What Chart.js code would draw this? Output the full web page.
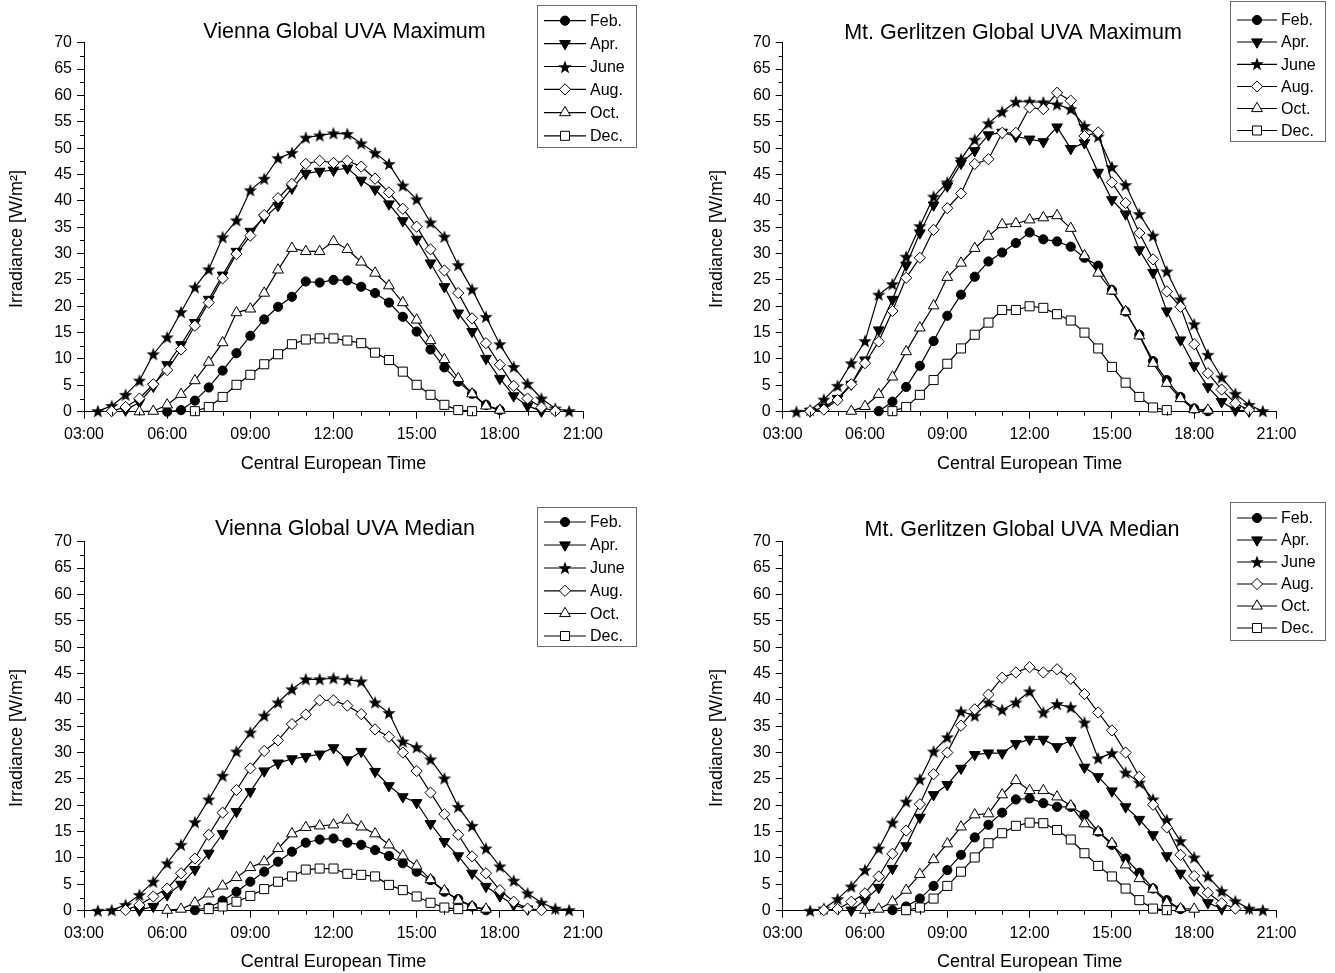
<!DOCTYPE html>
<html><head><meta charset="utf-8">
<script src="https://cdn.jsdelivr.net/npm/chart.js@4.4.1/dist/chart.umd.min.js"></script>
<style>
html,body{margin:0;padding:0;background:#fff;}
body{width:1335px;height:973px;position:relative;overflow:hidden;}
canvas{position:absolute;}
</style></head><body>
<canvas id="c0"></canvas><canvas id="c1"></canvas><canvas id="c2"></canvas><canvas id="c3"></canvas>
<script>
// ---------- data ----------
const times = ['03:30','04:00','04:30','05:00','05:30','06:00','06:30','07:00','07:30','08:00',
  '08:30','09:00','09:30','10:00','10:30','11:00','11:30','12:00','12:30','13:00',
  '13:30','14:00','14:30','15:00','15:30','16:00','16:30','17:00','17:30','18:00',
  '18:30','19:00','19:30','20:00','20:30'];
const xTickLabels = ['03:00','06:00','09:00','12:00','15:00','18:00','21:00'];
const yTickValues = [0,5,10,15,20,25,30,35,40,45,50,55,60,65,70];
const months = ['Feb.','Apr.','June','Aug.','Oct.','Dec.'];
const titles = ['Vienna Global UVA Maximum','Mt. Gerlitzen Global UVA Maximum','Vienna Global UVA Median','Mt. Gerlitzen Global UVA Median'];
const yAxisTitle = 'Irradiance [W/m²]';
const xAxisTitle = 'Central European Time';

// Vienna maximum
const viennaMaxFeb = [null,null,null,null,null,0.0,0.3,2.1,4.6,7.8,11.1,14.4,17.5,19.9,21.8,24.7,24.5,25.0,24.9,23.7,22.5,20.7,18.0,15.2,11.8,8.4,5.7,3.4,1.3,0.3,null,null,null,null,null];
const viennaMaxApr = [null,null,0.3,1.8,4.8,8.9,12.7,16.9,21.3,25.9,30.4,34.2,36.8,39.1,42.4,45.2,45.6,45.8,46.2,43.9,42.2,39.4,36.2,32.7,28.2,23.7,18.7,15.2,10.1,6.3,3.0,1.1,0.1,null,null];
const viennaMaxJun = [0.1,1.1,3.2,5.9,10.9,14.1,18.9,23.6,27.0,33.1,36.3,42.0,44.2,48.1,49.1,52.0,52.4,52.8,52.7,50.9,49.1,47.0,42.9,40.3,35.9,33.2,27.8,23.2,18.0,12.8,8.5,5.3,2.5,0.6,0.1];
const viennaMaxAug = [null,0.1,0.9,2.5,5.2,7.9,11.8,16.3,20.7,25.3,29.9,33.4,37.3,40.5,43.2,47.0,47.6,47.2,47.6,46.5,44.2,41.6,38.5,35.1,30.8,26.8,22.5,17.7,13.0,8.9,4.9,2.5,0.8,0.1,null];
const viennaMaxOct = [null,null,null,0.0,0.1,1.3,3.3,5.9,9.4,13.1,18.8,19.5,22.5,26.9,31.0,30.4,30.4,32.3,30.8,28.4,26.3,23.9,20.7,17.4,13.5,9.9,6.3,3.4,1.1,0.3,null,null,null,null,null];
const viennaMaxDec = [null,null,null,null,null,null,null,0.1,0.9,2.8,5.1,7.0,9.0,10.9,12.8,13.7,13.9,13.9,13.5,13.0,11.2,9.8,7.6,5.1,3.2,1.3,0.3,0.1,null,null,null,null,null,null,null];

// Mt. Gerlitzen maximum
const gerlMaxFeb = [null,null,null,null,null,null,0.1,1.9,4.7,8.7,13.4,18.2,22.2,25.6,28.5,30.2,32.0,34.0,32.7,32.3,31.3,29.2,27.7,23.1,19.0,14.6,9.6,6.0,2.8,0.6,0.1,null,null,null,null];
const gerlMaxApr = [null,0.1,0.8,2.5,5.2,9.8,15.5,21.3,27.8,33.9,39.2,42.8,47.1,49.5,52.5,53.0,52.2,51.7,51.2,54.0,49.9,51.0,45.4,40.2,37.5,30.7,26.4,19.1,13.6,8.7,4.7,1.9,0.3,0.1,null];
const gerlMaxJun = [0.0,0.3,2.3,4.9,9.2,13.4,22.2,24.2,29.4,35.2,40.8,43.5,47.9,51.6,54.7,56.9,58.8,58.8,58.7,58.3,57.4,54.2,52.2,46.4,43.0,37.5,33.4,26.6,21.3,16.6,10.8,6.5,3.4,1.3,0.1];
const gerlMaxAug = [null,0.1,0.4,2.2,5.2,9.2,13.3,19.1,25.4,29.2,34.5,38.6,41.4,47.0,47.9,52.9,52.9,57.7,57.4,60.5,59.0,52.3,53.0,43.5,39.6,33.9,28.9,22.8,19.9,12.8,7.3,4.2,1.6,0.3,null];
const gerlMaxOct = [null,null,null,null,0.1,1.0,3.3,6.6,11.4,15.9,20.1,25.5,28.2,31.0,33.3,35.5,35.7,36.4,36.8,37.2,34.8,29.6,26.3,22.9,19.0,14.4,9.2,5.4,2.5,0.4,0.3,null,null,null,null];
const gerlMaxDec = [null,null,null,null,null,null,null,0.1,0.9,3.2,6.0,9.1,12.0,14.6,16.9,19.3,19.3,20.0,19.7,18.5,17.3,15.0,12.0,8.5,5.5,2.8,0.8,0.3,null,null,null,null,null,null,null];

// Vienna median
const viennaMedFeb = [null,null,null,null,null,null,null,0.1,0.6,1.9,3.6,5.5,7.4,9.3,11.2,12.9,13.5,13.7,12.9,12.5,11.5,10.4,9.0,7.4,5.8,3.6,2.2,0.8,0.1,null,null,null,null,null,null];
const viennaMedApr = [null,null,null,0.1,0.8,3.0,5.0,7.8,10.9,14.6,18.8,22.6,26.5,28.0,28.8,29.2,29.7,30.9,28.6,30.2,26.4,23.7,21.6,20.5,16.5,13.1,10.4,7.1,4.6,2.8,1.1,0.3,null,null,null];
const viennaMedJun = [0.0,0.1,1.1,3.0,5.5,9.0,12.5,16.8,21.1,25.6,30.2,33.8,37.0,39.5,42.0,43.9,43.9,44.1,43.8,43.5,39.5,37.5,32.1,31.0,28.7,25.1,19.7,16.1,11.8,8.4,5.7,3.3,1.5,0.4,0.1];
const viennaMedAug = [null,null,0.1,1.1,2.7,4.2,7.1,9.9,14.4,18.6,22.9,27.0,30.3,32.3,35.4,37.2,39.9,39.9,38.9,37.3,34.4,33.0,30.0,26.5,22.4,18.3,14.4,10.3,7.1,3.9,1.7,0.4,0.1,null,null];
const viennaMedOct = [null,null,null,null,null,0.1,0.3,1.5,3.2,4.7,6.3,8.2,9.3,11.8,14.6,15.8,16.1,16.3,17.2,15.9,14.6,12.5,10.4,8.5,5.9,3.8,2.0,0.8,0.3,null,null,null,null,null,null];
const viennaMedDec = [null,null,null,null,null,null,null,null,0.3,0.8,1.7,2.8,4.1,5.5,6.5,7.8,8.0,8.0,7.0,6.8,6.5,4.9,3.9,2.7,1.5,0.6,0.3,null,null,null,null,null,null,null,null];

// Mt. Gerlitzen median
const gerlMedFeb = [null,null,null,null,null,null,null,0.1,0.8,2.3,4.7,7.7,10.6,13.9,16.3,18.6,21.1,21.3,20.4,19.7,19.7,18.2,15.0,12.5,9.9,7.2,4.2,2.0,0.3,null,null,null,null,null,null];
const gerlMedApr = [null,null,null,null,0.1,2.0,4.4,8.0,12.3,17.7,22.0,23.9,27.0,29.6,29.9,29.9,31.7,32.5,32.5,31.1,32.3,27.2,25.4,22.7,19.7,17.3,14.4,10.4,7.1,3.9,1.5,0.4,null,null,null];
const gerlMedJun = [null,0.0,0.4,2.2,4.6,7.7,11.8,16.7,20.7,24.9,30.2,32.9,37.8,37.0,39.5,38.1,39.5,41.6,37.6,39.2,38.6,35.7,28.9,29.9,26.2,24.3,21.1,17.2,13.2,10.1,6.5,3.7,1.8,0.4,0.1];
const gerlMedAug = [null,null,0.1,0.3,1.7,3.3,6.5,10.8,15.2,20.2,25.9,30.0,35.1,38.2,41.0,44.2,45.2,46.2,45.2,45.8,44.0,41.1,37.6,34.2,30.0,25.4,20.1,15.8,10.6,6.6,3.4,1.4,0.4,null,null];
const gerlMedOct = [null,null,null,null,null,0.1,0.3,1.7,3.9,6.9,9.7,12.7,15.9,18.2,18.4,22.0,24.7,22.8,22.8,21.6,19.9,16.5,15.0,12.8,8.7,6.1,4.1,1.5,0.4,0.3,null,null,null,null,null];
const gerlMedDec = [null,null,null,null,null,null,null,null,0.1,0.6,2.3,4.7,7.4,10.1,12.8,14.7,16.1,16.7,16.6,15.3,13.5,10.9,8.5,6.5,4.2,2.0,0.4,0.1,null,null,null,null,null,null,null];

// ---------- helpers ----------
const FONT = "'Liberation Sans', Arial, Helvetica, sans-serif";
const toHours = s => { const [h,m] = s.split(':').map(Number); return h + m/60; };
const xs = times.map(toHours);

function makeStar(){
  const c = document.createElement('canvas');
  c.width = 16; c.height = 16;
  const g = c.getContext('2d');
  const cx = 8, cy = 8.5;
  g.fillStyle = '#000'; g.beginPath();
  for (let k = 0; k < 10; k++) {
    const r = k % 2 === 0 ? 7.0 : 2.9;
    const a = -Math.PI/2 + k*Math.PI/5;
    const px = cx + r*Math.cos(a), py = cy + r*Math.sin(a);
    if (k === 0) g.moveTo(px, py); else g.lineTo(px, py);
  }
  g.closePath(); g.fill();
  return c;
}
const starImg = makeStar();
// marker styles for Feb, Apr, June, Aug, Oct, Dec
const markerStyles = [
  { pointStyle:'circle',   radius:4.6, rotation:0,   fill:'#000' },
  { pointStyle:'triangle', radius:6.2, rotation:180, fill:'#000' },
  { pointStyle:starImg,    radius:6,   rotation:0,   fill:'#000' },
  { pointStyle:'rectRot',  radius:5.6, rotation:0,   fill:'#fff' },
  { pointStyle:'triangle', radius:6.2, rotation:0,   fill:'#fff' },
  { pointStyle:'rect',     radius:6.4, rotation:0,   fill:'#fff' }
];

// ---------- panel layout (page coordinates) ----------
const panels = [
  { id:'c0', left:0, top:0, width:667, height:490, series:[viennaMaxFeb,viennaMaxApr,viennaMaxJun,viennaMaxAug,viennaMaxOct,viennaMaxDec],
    plot:{l:84,r:583,t:42.7,b:411.7}, yTitleX:17.5, yTitleY:239, xTitleY:464, titleX:344.5, titleY:32,
    legend:{x1:537.5,x2:636.5,y1:5.5,y2:147.5,rows:[20.7,43.6,66.5,89.4,112.6,135.8],l1:544,l2:586,tx:590} },
  { id:'c1', left:667, top:0, width:668, height:490, series:[gerlMaxFeb,gerlMaxApr,gerlMaxJun,gerlMaxAug,gerlMaxOct,gerlMaxDec],
    plot:{l:782.7,r:1276.5,t:42.7,b:411.7}, yTitleX:717, yTitleY:239, xTitleY:464, titleX:1013, titleY:33,
    legend:{x1:1230.5,x2:1325.5,y1:1.5,y2:141.5,rows:[20,42,64.3,86.5,108.5,130.5],l1:1237,l2:1277,tx:1281} },
  { id:'c2', left:0, top:490, width:667, height:483, series:[viennaMedFeb,viennaMedApr,viennaMedJun,viennaMedAug,viennaMedOct,viennaMedDec],
    plot:{l:84,r:583,t:541.7,b:910.7}, yTitleX:17.5, yTitleY:738, xTitleY:962, titleX:345, titleY:529,
    legend:{x1:537.5,x2:636.5,y1:507.5,y2:646.5,rows:[522,545,568,590.8,613.5,636],l1:544,l2:586,tx:590} },
  { id:'c3', left:667, top:490, width:668, height:483, series:[gerlMedFeb,gerlMedApr,gerlMedJun,gerlMedAug,gerlMedOct,gerlMedDec],
    plot:{l:782.7,r:1276.5,t:541.7,b:910.7}, yTitleX:717, yTitleY:738, xTitleY:962, titleX:1022, titleY:530,
    legend:{x1:1230.5,x2:1325.5,y1:502.5,y2:640.5,rows:[518,540,562,584,606,628],l1:1237,l2:1277,tx:1281} }
];

function drawMarker(ctx, ms, x, y){
  ctx.save();
  ctx.fillStyle = ms.fill; ctx.strokeStyle = '#000'; ctx.lineWidth = 1;
  if (typeof ms.pointStyle !== 'string') {
    const im = ms.pointStyle;
    ctx.drawImage(im, Math.round(x - im.width/2), Math.round(y - im.height/2));
  } else {
    Chart.helpers.drawPoint(ctx, { pointStyle: ms.pointStyle, rotation: ms.rotation, radius: ms.radius, borderWidth: 1 }, x, y);
  }
  ctx.restore();
}

const decor = {
  id:'decor',
  afterDraw(chart, args, opts){
    const p = opts.panel; const ctx = chart.ctx;
    const sx = chart.scales.x, sy = chart.scales.y;
    ctx.save();
    ctx.strokeStyle = '#000'; ctx.lineWidth = 1;
    ctx.beginPath();
    for (let v = sy.min + 2.5; v < sy.max; v += 5) {
      const py = Math.round(sy.getPixelForValue(v)) + 0.5;
      ctx.moveTo(sy.right - 4, py); ctx.lineTo(sy.right, py);
    }
    for (let h = sx.min; h <= sx.max; h += 1) {
      if (h % 3 === 0) continue;
      const px = Math.round(sx.getPixelForValue(h)) + 0.5;
      ctx.moveTo(px, sx.top); ctx.lineTo(px, sx.top + 4);
    }
    ctx.stroke();
    ctx.fillStyle = '#000';
    // y-axis title
    ctx.save();
    ctx.translate(p.yTitleX - p.left, p.yTitleY - p.top);
    ctx.rotate(-Math.PI/2);
    ctx.font = '18px ' + FONT; ctx.textAlign = 'center'; ctx.textBaseline = 'middle';
    ctx.fillText(yAxisTitle, 0, 0);
    ctx.restore();
    // chart title
    ctx.font = '21.5px ' + FONT;
    ctx.textAlign = 'center'; ctx.textBaseline = 'middle';
    ctx.fillText(p.title, p.titleX - p.left, p.titleY - p.top);
    // legend
    const L = p.legend;
    ctx.strokeStyle = '#6a6a6a'; ctx.lineWidth = 1;
    ctx.strokeRect(L.x1 - p.left, L.y1 - p.top, L.x2 - L.x1, L.y2 - L.y1);
    ctx.font = '16px ' + FONT; ctx.textAlign = 'left';
    months.forEach((m, i) => {
      const y = L.rows[i] - p.top;
      ctx.strokeStyle = '#000'; ctx.lineWidth = 1.2;
      ctx.beginPath(); ctx.moveTo(L.l1 - p.left, y); ctx.lineTo(L.l2 - p.left, y); ctx.stroke();
      drawMarker(ctx, markerStyles[i], (L.l1 + L.l2)/2 - p.left, y);
      ctx.fillStyle = '#000';
      ctx.fillText(m, L.tx - p.left, y + 1);
    });
    ctx.restore();
  }
};

panels.forEach((p, pi) => {
  p.title = titles[pi];
  const cv = document.getElementById(p.id);
  cv.width = p.width; cv.height = p.height;
  cv.style.left = p.left + 'px'; cv.style.top = p.top + 'px';
  cv.style.width = p.width + 'px'; cv.style.height = p.height + 'px';
  const plotL = p.plot.l - p.left, plotR = p.plot.r - p.left, plotT = p.plot.t - p.top, plotB = p.plot.b - p.top;
  const xScaleBottom = (p.xTitleY - p.top) + 18*1.2/2;
  const xHeight = xScaleBottom - plotB;
  const padBottom = p.height - xScaleBottom;

  const datasets = p.series.map((vals, i) => {
    const ms = markerStyles[i];
    return {
      label: months[i],
      data: xs.map((x, k) => ({ x: x, y: vals[k] })),
      borderColor: '#000', borderWidth: 1.2,
      pointStyle: ms.pointStyle, pointRadius: ms.radius, pointHoverRadius: ms.radius,
      pointRotation: ms.rotation, pointBackgroundColor: ms.fill, pointBorderColor: '#000', pointBorderWidth: 1,
      tension: 0, spanGaps: false, clip: false, fill: false,
      order: 5 - i
    };
  });

  new Chart(cv, {
    type: 'line',
    data: { datasets },
    options: {
      responsive: false, animation: false, devicePixelRatio: 1,
      events: [],
      layout: { padding: { left: 0, right: p.width - plotR, top: plotT, bottom: padBottom } },
      plugins: { legend: { display: false }, tooltip: { enabled: false }, decor: { panel: p } },
      scales: {
        x: {
          type: 'linear', min: 3, max: 21,
          afterBuildTicks: s => { s.ticks = xTickLabels.map(l => ({ value: toHours(l) })); },
          afterFit: s => { s.height = xHeight; },
          ticks: { callback: v => { const i = xTickLabels.findIndex(l => toHours(l) === v); return i >= 0 ? xTickLabels[i] : ''; },
                   font: { family: FONT, size: 16 }, color: '#000', padding: 6, maxRotation: 0, autoSkip: false },
          grid: { drawOnChartArea: false, drawTicks: true, tickLength: 7, color: '#000', tickWidth: 1 },
          border: { display: true, color: '#000', width: 1 },
          title: { display: true, text: xAxisTitle, font: { family: FONT, size: 18 }, color: '#000', padding: { top: 0, bottom: 0 } }
        },
        y: {
          type: 'linear', min: 0, max: 70,
          afterBuildTicks: s => { s.ticks = yTickValues.map(v => ({ value: v })); },
          afterFit: s => { s.width = plotL; },
          ticks: { font: { family: FONT, size: 16 }, color: '#000', padding: 5 },
          grid: { drawOnChartArea: false, drawTicks: true, tickLength: 7, color: '#000', tickWidth: 1 },
          border: { display: true, color: '#000', width: 1 },
          title: { display: false }
        }
      }
    },
    plugins: [decor]
  });
});
</script>
</body></html>
